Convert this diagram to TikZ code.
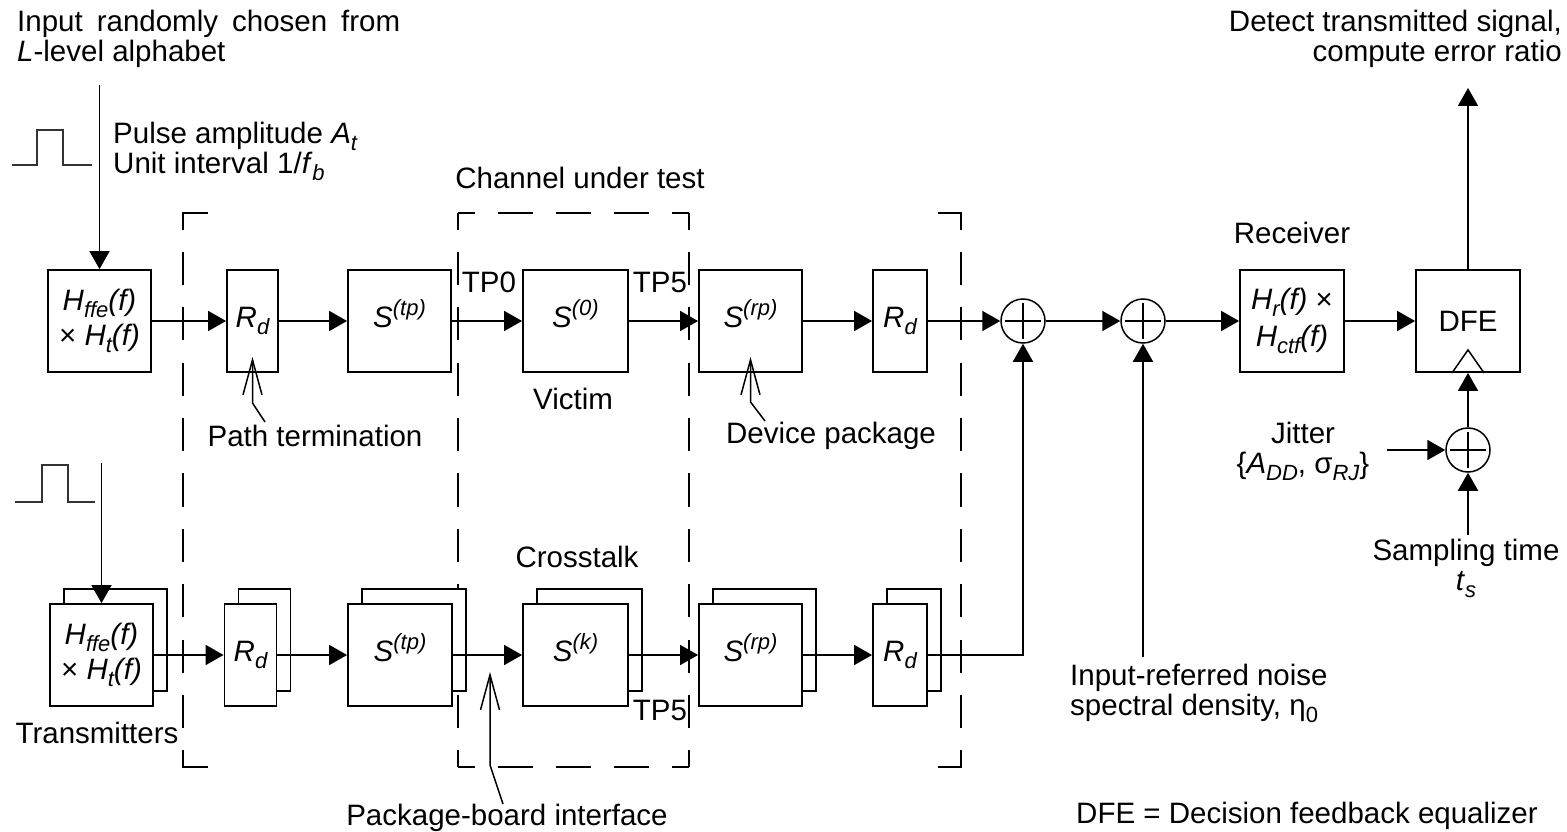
\documentclass[tikz,border=0pt]{standalone}
\usepackage{fontspec}
\setmainfont{Liberation Sans}
\usetikzlibrary{arrows.meta}
\newcommand{\isub}[1]{\raisebox{-0.24em}{\fontsize{22}{22}\selectfont\itshape #1}}
\newcommand{\usub}[1]{\raisebox{-0.24em}{\fontsize{22}{22}\selectfont #1}}
\newcommand{\isup}[1]{\raisebox{0.40em}{\fontsize{22}{22}\selectfont\itshape #1}}
\newcommand{\sdown}{\rule[-15pt]{0pt}{0pt}}
\begin{document}
\begin{tikzpicture}[x=1pt,y=-1pt,
  every node/.style={font=\fontsize{29.5}{30}\selectfont},
  blk/.style={draw, fill=white, line width=1.8pt, inner sep=0pt, align=center, minimum height=102pt},
  lbl/.style={inner sep=0pt, align=center},
  sig/.style={line width=1.8pt, -{Triangle[length=18pt,width=20pt]}},
  ptr/.style={line width=1.5pt, -{Straight Barb[length=35pt,width=19pt]}},
  corner/.style={line width=1.8pt},
  dshv/.style={line width=1.8pt, dash pattern=on 33.2pt off 22.2pt, dash phase=16.6pt},
  dshh/.style={line width=1.8pt, dash pattern=on 34.6pt off 23.15pt, dash phase=17.3pt},
  pulse/.style={line width=1.5pt, draw=black!80},
  sum/.style={circle, draw, line width=1.5pt, minimum size=44pt, inner sep=0pt,
    path picture={
      \draw[line width=1.5pt] ([xshift=-18pt]path picture bounding box.center) -- ([xshift=18pt]path picture bounding box.center);
      \draw[line width=1.5pt] ([yshift=-18pt]path picture bounding box.center) -- ([yshift=18pt]path picture bounding box.center);}}
]
\useasboundingbox (0,0) rectangle (1567,832);

% dashed groupings
\draw[dshv] (183,213) -- (183,767);
\draw[corner] (208,213) -- (183,213) -- (183,229);
\draw[corner] (208,767) -- (183,767) -- (183,751);
\draw[dshv] (458,213) -- (458,767);
\draw[dshv] (689,213) -- (689,767);
\draw[dshh] (458,213) -- (689,213);
\draw[dshh] (458,767) -- (689,767);
\draw[dshv] (961,213) -- (961,767);
\draw[corner] (938,213) -- (961,213) -- (961,229);
\draw[corner] (938,767) -- (961,767) -- (961,751);

% pulses
\draw[pulse] (12,165) -- (37,165) -- (37,130) -- (63,130) -- (63,165) -- (92,165);
\draw[pulse] (15,502) -- (42,502) -- (42,465) -- (68,465) -- (68,502) -- (95,502);

% top row (victim)
\node[blk, minimum width=103pt] (tx) at (99.5,321) {{\itshape H\isub{ffe}(f)}\\[5pt]× {\itshape H\isub{t}(f)}};
\node[blk, minimum width=51pt] (rd1) at (252.5,321) {\textit{R}\isub{d}};
\node[blk, minimum width=103pt] (stp) at (399.5,321) {\textit{S}\isup{(tp)}\sdown};
\node[blk, minimum width=105pt] (s0) at (575.5,321) {\textit{S}\isup{(0)}\sdown};
\node[blk, minimum width=103pt] (srp) at (750.5,321) {\textit{S}\isup{(rp)}\sdown};
\node[blk, minimum width=54pt] (rd2) at (900,321) {\textit{R}\isub{d}};
\node[sum] (s1) at (1023,321) {};
\node[sum] (s2) at (1143,321) {};
\node[blk, minimum width=104pt] (rx) at (1292,321) {{\itshape H\isub{r}(f)} ×\\[7pt]{\itshape H\isub{ctf}(f)}};
\node[blk, minimum width=104pt] (dfe) at (1468,321) {DFE};
\draw[line width=1.5pt] ([xshift=-16pt]dfe.south) -- ([yshift=23pt]dfe.south) -- ([xshift=16pt]dfe.south);
\node[sum] (sj) at (1468,450) {};

% bottom row (crosstalk), back copies first
\node[blk, minimum width=103pt] (btxb) at (115.5,640) {};
\node[blk, minimum width=103pt] (btx) at (101.5,655) {{\itshape H\isub{ffe}(f)}\\[5pt]× {\itshape H\isub{t}(f)}};
\node[blk, minimum width=52pt] (brd1b) at (264.5,640) {};
\node[blk, minimum width=52pt] (brd1) at (250.5,655) {\textit{R}\isub{d}};
\node[blk, minimum width=104pt] (bstpb) at (414,640) {};
\node[blk, minimum width=104pt] (bstp) at (400,655) {\textit{S}\isup{(tp)}\sdown};
\node[blk, minimum width=105pt] (bskb) at (589.5,640) {};
\node[blk, minimum width=105pt] (bsk) at (575.5,655) {\textit{S}\isup{(k)}\sdown};
\node[blk, minimum width=103pt] (bsrpb) at (764.5,640) {};
\node[blk, minimum width=103pt] (bsrp) at (750.5,655) {\textit{S}\isup{(rp)}\sdown};
\node[blk, minimum width=54pt] (brd2b) at (914,640) {};
\node[blk, minimum width=54pt] (brd2) at (900,655) {\textit{R}\isub{d}};

% signal connectors, top row
\coordinate (in1) at (99.5,85);
\draw[sig] (in1) -- (tx);
\draw[sig] (tx) -- (rd1);
\draw[sig] (rd1) -- (stp);
\draw[sig] (stp) -- (s0);
\draw[sig] (s0) -- (srp);
\draw[sig] (srp) -- (rd2);
\draw[sig] (rd2) -- (s1);
\draw[sig] (s1) -- (s2);
\draw[sig] (s2) -- (rx);
\draw[sig] (rx) -- (dfe);
\coordinate (out) at (1468,88);
\draw[sig] (dfe) -- (out);
\draw[sig] (sj) -- (dfe);
\coordinate (jin) at (1387,450);
\draw[sig] (jin) -- (sj);
\coordinate (sin) at (1468,535);
\draw[sig] (sin) -- (sj);
\coordinate (nin) at (1143,657);
\draw[sig] (nin) -- (s2);

% signal connectors, bottom row
\coordinate (in2) at (101.5,463);
\draw[sig] (in2) -- (btx);
\draw[sig] (btx) -- (brd1);
\draw[sig] (brd1) -- (bstp);
\draw[sig] (bstp) -- (bsk);
\draw[sig] (bsk) -- (bsrp);
\draw[sig] (bsrp) -- (brd2);
\draw[sig] (brd2) -| (s1);

% labels
\node[lbl, anchor=west, align=left] (inp) at (17,39) {{\spaceskip=14pt\relax Input randomly chosen from}\\\textit{L}-level alphabet};
\node[lbl, anchor=west, align=left] (pls) at (113,151) {Pulse amplitude \textit{A}\isub{t}\\Unit interval 1/\textit{f}\isub{b}};
\node[lbl, anchor=east, align=right] (det) at (1562,39) {Detect transmitted signal,\\compute error ratio};
\node[lbl] (cut) at (580,178) {Channel under test};
\node[lbl] (tp0) at (489,282) {TP0};
\node[lbl] (tp5) at (660,282) {TP5};
\node[lbl] (tp5b) at (660,710) {TP5};
\node[lbl] (vic) at (573,399) {Victim};
\node[lbl] (dev) at (831,436) {Device package};
\node[lbl] (pth) at (315,436) {Path termination};
\node[lbl] (xtk) at (577,557) {Crosstalk};
\node[lbl] (rcv) at (1292,233) {Receiver};
\node[lbl] (trn) at (97,733) {Transmitters};
\node[lbl] (pbi) at (507,818) {Package-board interface};
\node[lbl] (jit) at (1303,451) {Jitter\\\{\textit{A}\isub{DD}, σ\isub{RJ}\}};
\node[lbl] (smp) at (1466,568) {Sampling time\\\textit{t}\isub{s}};
\node[lbl, anchor=west, align=left] (noi) at (1070,693) {Input-referred noise\\spectral density, η\usub{0}};
\node[lbl] (dfeq) at (1307,816) {DFE = Decision feedback equalizer};

% pointers
\coordinate (p1s) at (265,422); \coordinate (p1b) at (252.5,403); \coordinate (p1t) at (252.5,357);
\draw[ptr] (p1s) -- (p1b) -- (p1t);
\coordinate (p2s) at (765,421); \coordinate (p2b) at (750.5,402); \coordinate (p2t) at (750.5,357);
\draw[ptr] (p2s) -- (p2b) -- (p2t);
\coordinate (p3s) at (503,804); \coordinate (p3b) at (490,765); \coordinate (p3t) at (490,672);
\draw[ptr] (p3s) -- (p3b) -- (p3t);
\end{tikzpicture}
\end{document}
